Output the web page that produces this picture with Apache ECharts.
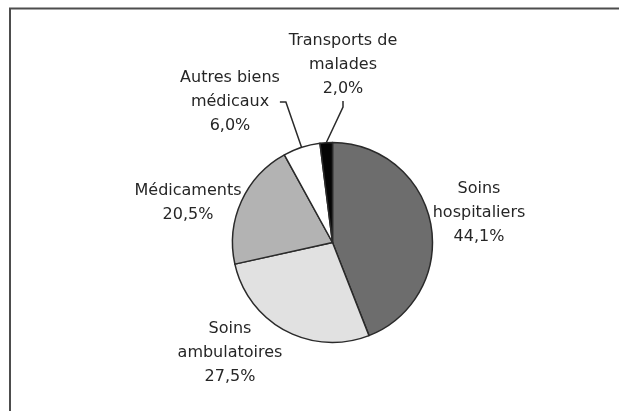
<!DOCTYPE html>
<html>
<head>
<meta charset="utf-8">
<script src="https://cdn.jsdelivr.net/npm/echarts@6/dist/echarts.min.js"></script>
<style>html,body{margin:0;padding:0;background:#fff}#c{width:619px;height:411px}</style>
</head>
<body>
<div id="c"></div>
<script>
const categories = ["Soins hospitaliers", "Soins ambulatoires", "Médicaments", "Autres biens médicaux", "Transports de malades"];
const labelTexts = ["Soins\nhospitaliers", "Soins\nambulatoires", "Médicaments", "Autres biens\nmédicaux", "Transports de\nmalades"];
const values = [44.1, 27.5, 20.5, 6.0, 2.0];
const colors = ["#6d6d6d", "#e1e1e1", "#b3b3b3", "#ffffff", "#050505"];
// label block centres (layout only)
const labelPos = [[479, 213], [230, 353], [188, 203], [230, 102], [343, 65]];
const showLine = [false, false, false, true, true];

const chart = echarts.init(document.getElementById('c'), null, {renderer: 'canvas'});
const fmt = v => v.toFixed(1).replace('.', ',') + '%';

chart.setOption({
  animation: false,
  backgroundColor: '#ffffff',
  graphic: [
    {type: 'line', shape: {x1: 9, y1: 8.5, x2: 619, y2: 8.5}, style: {stroke: '#4d4d4d', lineWidth: 2}},
    {type: 'line', shape: {x1: 10, y1: 8, x2: 10, y2: 411}, style: {stroke: '#4d4d4d', lineWidth: 2}}
  ],
  series: [{
    type: 'pie',
    center: [332.5, 242.5],
    radius: 100,
    startAngle: 90,
    clockwise: true,
    silent: true,
    itemStyle: {borderColor: '#2a2a2a', borderWidth: 1.5},
    label: {
      show: true,
      position: 'outside',
      fontFamily: 'DejaVu Sans',
      fontSize: 16,
      lineHeight: 24,
      color: '#262626',
      align: 'center'
    },
    labelLine: {show: true, lineStyle: {color: '#2a2a2a', width: 1.5}, length: 10, length2: 6},
    labelLayout: function (p) {
      const pos = labelPos[p.dataIndex];
      return {x: pos[0], y: pos[1], align: 'center', verticalAlign: 'middle'};
    },
    data: categories.map((c, i) => ({
      name: c,
      value: values[i],
      itemStyle: {color: colors[i]},
      label: {formatter: labelTexts[i] + '\n' + fmt(values[i])},
      labelLine: {show: showLine[i]}
    }))
  }]
});
</script>
</body>
</html>
